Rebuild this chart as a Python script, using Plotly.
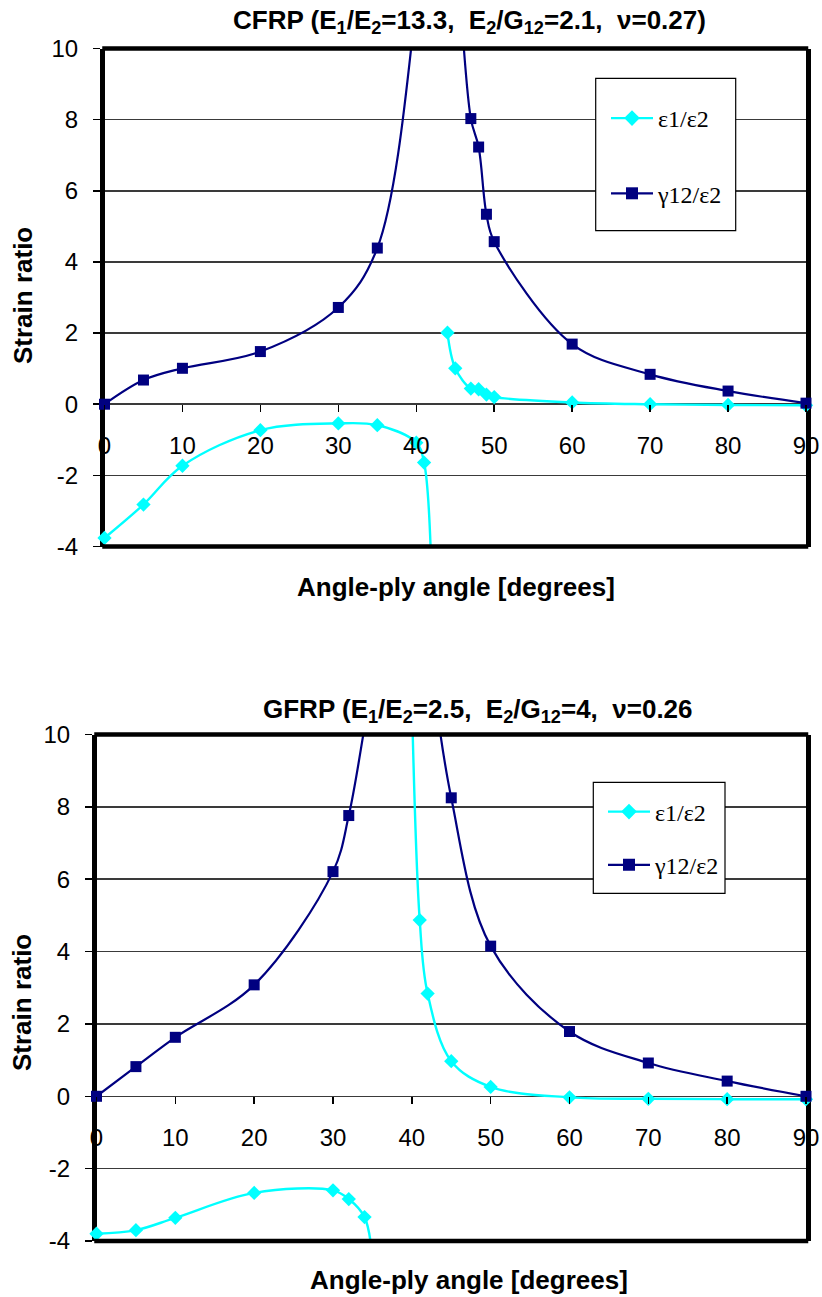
import plotly.graph_objects as go

# ---------------- data ----------------
ANGLE_CFRP = [0, 5, 10, 20, 30, 35, 40, 41, 42, 43, 44, 45, 47, 48, 49, 50, 60, 70, 80, 90]
EPS_CFRP = [-3.76, -2.82, -1.73, -0.73, -0.54, -0.59, -1.08, -1.64, -5.2, None,
            2.01, 1.01, 0.44, 0.42, 0.27, 0.20, 0.05, 0.0, -0.02, -0.03]
GAM_CFRP = [0.0, 0.68, 1.01, 1.48, 2.72, 4.39, 11.3, 14.0, 20.0, None,
            15.0, 13.2, 8.03, 7.23, 5.34, 4.57, 1.69, 0.84, 0.37, 0.03]

ANGLE_GFRP = [0, 5, 10, 20, 30, 32, 34, 35, 38, 40, 41, 42, 45, 50, 60, 70, 80, 90]
EPS_GFRP = [-3.80, -3.70, -3.36, -2.67, -2.60, -2.84, -3.34, -4.47, None,
            11.0, 4.87, 2.84, 0.97, 0.26, -0.03, -0.07, -0.08, -0.08]
GAM_GFRP = [0.0, 0.82, 1.63, 3.08, 6.21, 7.76, 10.2, 11.5, None,
            22.0, 15.5, 12.8, 8.25, 4.15, 1.79, 0.92, 0.42, 0.0]

X_TICKS = [0, 10, 20, 30, 40, 50, 60, 70, 80, 90]
Y_TICKS = [-4, -2, 0, 2, 4, 6, 8, 10]
Y_TICK_TEXT = [str(v) for v in Y_TICKS]

SERIES_NAMES = ["ε1/ε2", "γ12/ε2"]
TITLES = ["CFRP (E<sub>1</sub>/E<sub>2</sub>=13.3,  E<sub>2</sub>/G<sub>12</sub>=2.1,  ν=0.27)",
          "GFRP (E<sub>1</sub>/E<sub>2</sub>=2.5,  E<sub>2</sub>/G<sub>12</sub>=4,  ν=0.26"]
X_TITLE = "Angle-ply angle [degrees]"
Y_TITLE = "Strain ratio"

# ---------------- styling ----------------
W, H = 822, 1297
CYAN = "#00FFFF"
NAVY = "#000080"
SANS = "Liberation Sans, Arial, sans-serif"
SERIF = "Liberation Serif, Times New Roman, serif"
YMIN, YMAX = -4, 10
FRAME_W = 4.5


def px_x(p):
    return p / W


def px_y(p):
    return 1 - p / H


# plot-area boxes in screen pixels: (left, right, top, bottom)
BOX = [(104.5, 806, 48.5, 546.5), (96.5, 806, 734.5, 1241)]

fig = go.Figure()

panels = [
    (ANGLE_CFRP, EPS_CFRP, GAM_CFRP, "x", "y", "legend"),
    (ANGLE_GFRP, EPS_GFRP, GAM_GFRP, "x2", "y2", "legend2"),
]

for ang, eps, gam, xa, ya, lg in panels:
    for vals, col, sym, msize, lw, name in [
        (eps, CYAN, "diamond", 11, 2.4, SERIES_NAMES[0]),
        (gam, NAVY, "square", 11, 2.2, SERIES_NAMES[1]),
    ]:
        # smoothed line (clipped by the axes)
        fig.add_trace(go.Scatter(
            x=ang, y=vals, mode="lines", xaxis=xa, yaxis=ya,
            line=dict(color=col, width=lw, shape="spline", smoothing=1.0),
            connectgaps=False, showlegend=False, hoverinfo="skip"))
        # markers for points inside the plotted range
        mx = [a for a, v in zip(ang, vals) if v is not None and YMIN <= v <= YMAX]
        my = [v for v in vals if v is not None and YMIN <= v <= YMAX]
        fig.add_trace(go.Scatter(
            x=mx, y=my, mode="markers", xaxis=xa, yaxis=ya, cliponaxis=False,
            marker=dict(color=col, symbol=sym, size=msize, line=dict(width=0)),
            showlegend=False))
        # legend entry
        fig.add_trace(go.Scatter(
            x=[None], y=[None], mode="lines+markers", xaxis=xa, yaxis=ya,
            line=dict(color=col, width=lw),
            marker=dict(color=col, symbol=sym, size=msize + 1),
            name=name, legend=lg, legendgroup=lg + name, showlegend=True))

layout = dict(
    width=W, height=H, autosize=False,
    margin=dict(l=0, r=0, t=0, b=0, pad=0, autoexpand=False),
    paper_bgcolor="white", plot_bgcolor="white",
    font=dict(family=SANS, color="black", size=24),
    showlegend=True,
)

for i, (l, r, t, b) in enumerate(BOX):
    sfx = "" if i == 0 else "2"
    xdom = [px_x(l), px_x(r)]
    ydom = [px_y(b), px_y(t)]
    pos0 = ydom[0] + (0 - YMIN) / (YMAX - YMIN) * (ydom[1] - ydom[0])
    # x axis crossing at y = 0
    layout["xaxis" + sfx] = dict(
        domain=xdom, range=[0, 90], anchor="free", position=pos0, automargin=False,
        tickvals=X_TICKS, ticks="outside", ticklen=7, tickwidth=1.5, tickcolor="black",
        ticklabelstandoff=13, showgrid=False, zeroline=False, showline=False,
        tickfont=dict(family=SANS, size=24, color="black"), fixedrange=True)
    # y axis, its line + mirror give the left/right frame
    layout["yaxis" + sfx] = dict(
        domain=ydom, range=[YMIN, YMAX], anchor="x" + sfx, automargin=False,
        tickvals=Y_TICKS, ticktext=Y_TICK_TEXT, ticks="outside", ticklen=7,
        tickwidth=1.5, tickcolor="black", ticklabelstandoff=10,
        showgrid=True, gridcolor="#3a3a3a", gridwidth=1.5, zeroline=False,
        showline=True, linecolor="black", linewidth=FRAME_W, mirror=True,
        layer="below traces",
        tickfont=dict(family=SANS, size=24, color="black"), fixedrange=True)

# legends
LEG = [(606, 156, 41), (603, 838.5, 19)]
for i, (lx, cy, gap) in enumerate(LEG):
    key = "legend" if i == 0 else "legend2"
    layout[key] = dict(
        x=px_x(lx), y=px_y(cy), xanchor="left", yanchor="middle",
        bgcolor="rgba(0,0,0,0)", borderwidth=0, traceorder="grouped",
        tracegroupgap=gap, itemwidth=42,
        font=dict(family=SERIF, size=24, color="black"))

fig.update_layout(**layout)

# top / bottom edges of the frames
for (l, r, t, b) in BOX:
    for yy in (t, b):
        fig.add_shape(type="line", xref="paper", yref="paper",
                      x0=px_x(l - FRAME_W / 2), x1=px_x(r + FRAME_W / 2),
                      y0=px_y(yy), y1=px_y(yy),
                      line=dict(color="black", width=FRAME_W), layer="above")

# legend boxes
LEG_BOX = [(595.7, 735.7, 78.3, 230.7), (593.3, 725, 782.3, 893.3)]
for (l, r, t, b) in LEG_BOX:
    fig.add_shape(type="rect", xref="paper", yref="paper",
                  x0=px_x(l), x1=px_x(r), y0=px_y(b), y1=px_y(t),
                  line=dict(color="black", width=1.2), fillcolor="white",
                  layer="above")

# titles
ANN = [
    (TITLES[0], 469, 21, 26, 0), (TITLES[1], 478, 711, 26, 0),
    (X_TITLE, 456, 587, 26, 0), (X_TITLE, 469, 1280, 26, 0),
    (Y_TITLE, 23, 296, 26, -90), (Y_TITLE, 22, 1003, 26, -90),
]
for text, ax_, ay_, fs, ang in ANN:
    fig.add_annotation(text="<b>" + text + "</b>", x=px_x(ax_), y=px_y(ay_),
                       xref="paper", yref="paper", showarrow=False,
                       xanchor="center", yanchor="middle", textangle=ang,
                       font=dict(family=SANS, size=fs, color="black"))

fig.write_html(
    "out.html",
    config={"displayModeBar": False, "staticPlot": True},
    post_script="document.body.style.margin='0px';document.body.style.overflow='hidden';")
